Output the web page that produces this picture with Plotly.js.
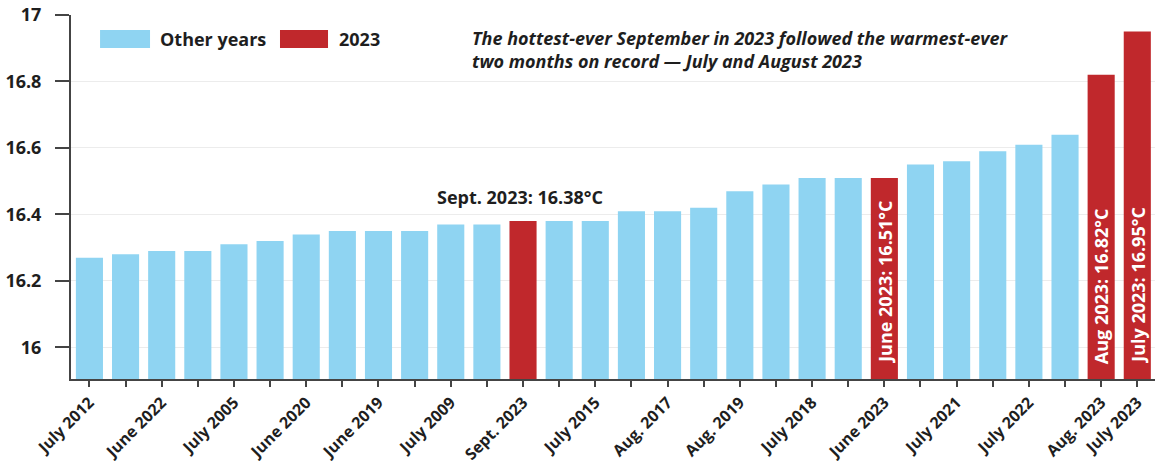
<!DOCTYPE html>
<html>
<head>
<meta charset="utf-8">
<script src="https://cdn.plot.ly/plotly-3.0.1.min.js"></script>
<style>
  html, body { margin: 0; padding: 0; background: #ffffff; }
  #chart { width: 1156px; height: 466px; }
</style>
</head>
<body>
<div id="chart"></div>
<script>
// Hottest months on record, ranked: global mean surface air temperature (°C)
const monthLabels = [
  'July 2012', '', 'June 2022', '', 'July 2005', '', 'June 2020', '', 'June 2019', '',
  'July 2009', '', 'Sept. 2023', '', 'July 2015', '', 'Aug. 2017', '', 'Aug. 2019', '',
  'July 2018', '', 'June 2023', '', 'July 2021', '', 'July 2022', '', 'Aug. 2023', 'July 2023'
];
const temps = [
  16.27, 16.28, 16.29, 16.29, 16.31, 16.32, 16.34, 16.35, 16.35, 16.35,
  16.37, 16.37, 16.38, 16.38, 16.38, 16.41, 16.41, 16.42, 16.47, 16.49,
  16.51, 16.51, 16.51, 16.55, 16.56, 16.59, 16.61, 16.64, 16.82, 16.95
];
const is2023 = [
  false, false, false, false, false, false, false, false, false, false,
  false, false, true,  false, false, false, false, false, false, false,
  false, false, true,  false, false, false, false, false, true,  true
];
// Names printed inside the tall 2023 bars
const barLabelNames = { 22: 'June 2023', 28: 'Aug 2023', 29: 'July 2023' };
const calloutIndex = 12;   // Sept. 2023, labelled above its bar

const yTicks = [16, 16.2, 16.4, 16.6, 16.8, 17];
const yTickText = ['16', '16.2', '16.4', '16.6', '16.8', '17'];

const BLUE = '#8fd4f2';
const RED = '#c0282c';
const INK = '#1e1e1e';
const FONT = '"Open Sans", Lato, sans-serif';
const yMin = 15.905, yMax = 17;

const idx = temps.map((_, i) => i);
const otherX = idx.filter(i => !is2023[i]);
const redX = idx.filter(i => is2023[i]);

const traces = [
  {
    type: 'bar', name: 'Other years',
    x: otherX, y: otherX.map(i => temps[i]),
    marker: { color: BLUE }, width: 0.75,
    hoverinfo: 'skip', showlegend: false
  },
  {
    type: 'bar', name: '2023',
    x: redX, y: redX.map(i => temps[i]),
    marker: { color: RED }, width: 0.75,
    hoverinfo: 'skip', showlegend: false
  }
];

const annotations = [];
// value callout above the September bar
annotations.push({
  x: calloutIndex, y: temps[calloutIndex], xref: 'x', yref: 'y',
  text: monthLabels[calloutIndex] + ': ' + temps[calloutIndex].toFixed(2) + '°C',
  showarrow: false, xanchor: 'center', yanchor: 'bottom', xshift: -3, yshift: 10,
  font: { family: FONT, size: 18, color: INK, weight: 'bold' }
});
// vertical labels inside the record bars
Object.keys(barLabelNames).forEach(k => {
  const i = Number(k);
  annotations.push({
    x: i, y: yMin, xref: 'x', yref: 'y',
    text: barLabelNames[i] + ': ' + temps[i].toFixed(2) + '°C',
    textangle: -90, showarrow: false,
    xanchor: 'center', yanchor: 'bottom', yshift: 13,
    font: { family: FONT, size: 18, color: '#ffffff', weight: 'bold' }
  });
});
// note at the top
annotations.push({
  x: 0.368, y: 0.975, xref: 'paper', yref: 'paper',
  xanchor: 'left', yanchor: 'top', align: 'left', showarrow: false,
  text: 'The hottest-ever September in 2023 followed the warmest-ever<br>two months on record \u2014 July and August 2023',
  font: { family: FONT, size: 18, color: INK, weight: 'bold', style: 'italic' }
});
// legend labels
annotations.push({
  x: 0.0803, y: 0.934, xref: 'paper', yref: 'paper', xanchor: 'left', yanchor: 'middle',
  showarrow: false, text: 'Other years',
  font: { family: FONT, size: 18, color: INK, weight: 'bold' }
});
annotations.push({
  x: 0.2454, y: 0.934, xref: 'paper', yref: 'paper', xanchor: 'left', yanchor: 'middle',
  showarrow: false, text: '2023',
  font: { family: FONT, size: 18, color: INK, weight: 'bold' }
});

const shapes = [
  { type: 'rect', xref: 'paper', yref: 'paper', x0: 0.0268, x1: 0.0729, y0: 0.909, y1: 0.959,
    fillcolor: BLUE, line: { width: 0 } },
  { type: 'rect', xref: 'paper', yref: 'paper', x0: 0.1928, x1: 0.2371, y0: 0.909, y1: 0.959,
    fillcolor: RED, line: { width: 0 } }
];

const layout = {
  width: 1156, height: 466,
  margin: { l: 71, r: 1, t: 15, b: 87 },
  paper_bgcolor: '#ffffff', plot_bgcolor: '#ffffff',
  barmode: 'overlay', bargap: 0.25,
  showlegend: false,
  font: { family: FONT, color: INK },
  xaxis: {
    range: [-0.51, 29.49],
    tickmode: 'array', tickvals: idx, ticktext: monthLabels,
    tickangle: -45,
    ticks: 'outside', ticklen: 6, tickwidth: 2, tickcolor: '#444',
    showline: true, linecolor: '#444', linewidth: 2,
    showgrid: false, zeroline: false,
    tickfont: { family: FONT, size: 16, color: INK, weight: 'bold' }
  },
  yaxis: {
    range: [yMin, yMax],
    tickmode: 'array', tickvals: yTicks, ticktext: yTickText,
    ticks: 'outside', ticklen: 14, tickwidth: 2, tickcolor: '#444',
    ticklabelstandoff: 10,
    showline: true, linecolor: '#444', linewidth: 2,
    showgrid: true, gridcolor: '#ececec', gridwidth: 1,
    zeroline: false,
    tickfont: { family: FONT, size: 18, color: INK, weight: 'bold' }
  },
  annotations: annotations,
  shapes: shapes
};

Plotly.newPlot('chart', traces, layout, { displayModeBar: false, staticPlot: true });
</script>
</body>
</html>
